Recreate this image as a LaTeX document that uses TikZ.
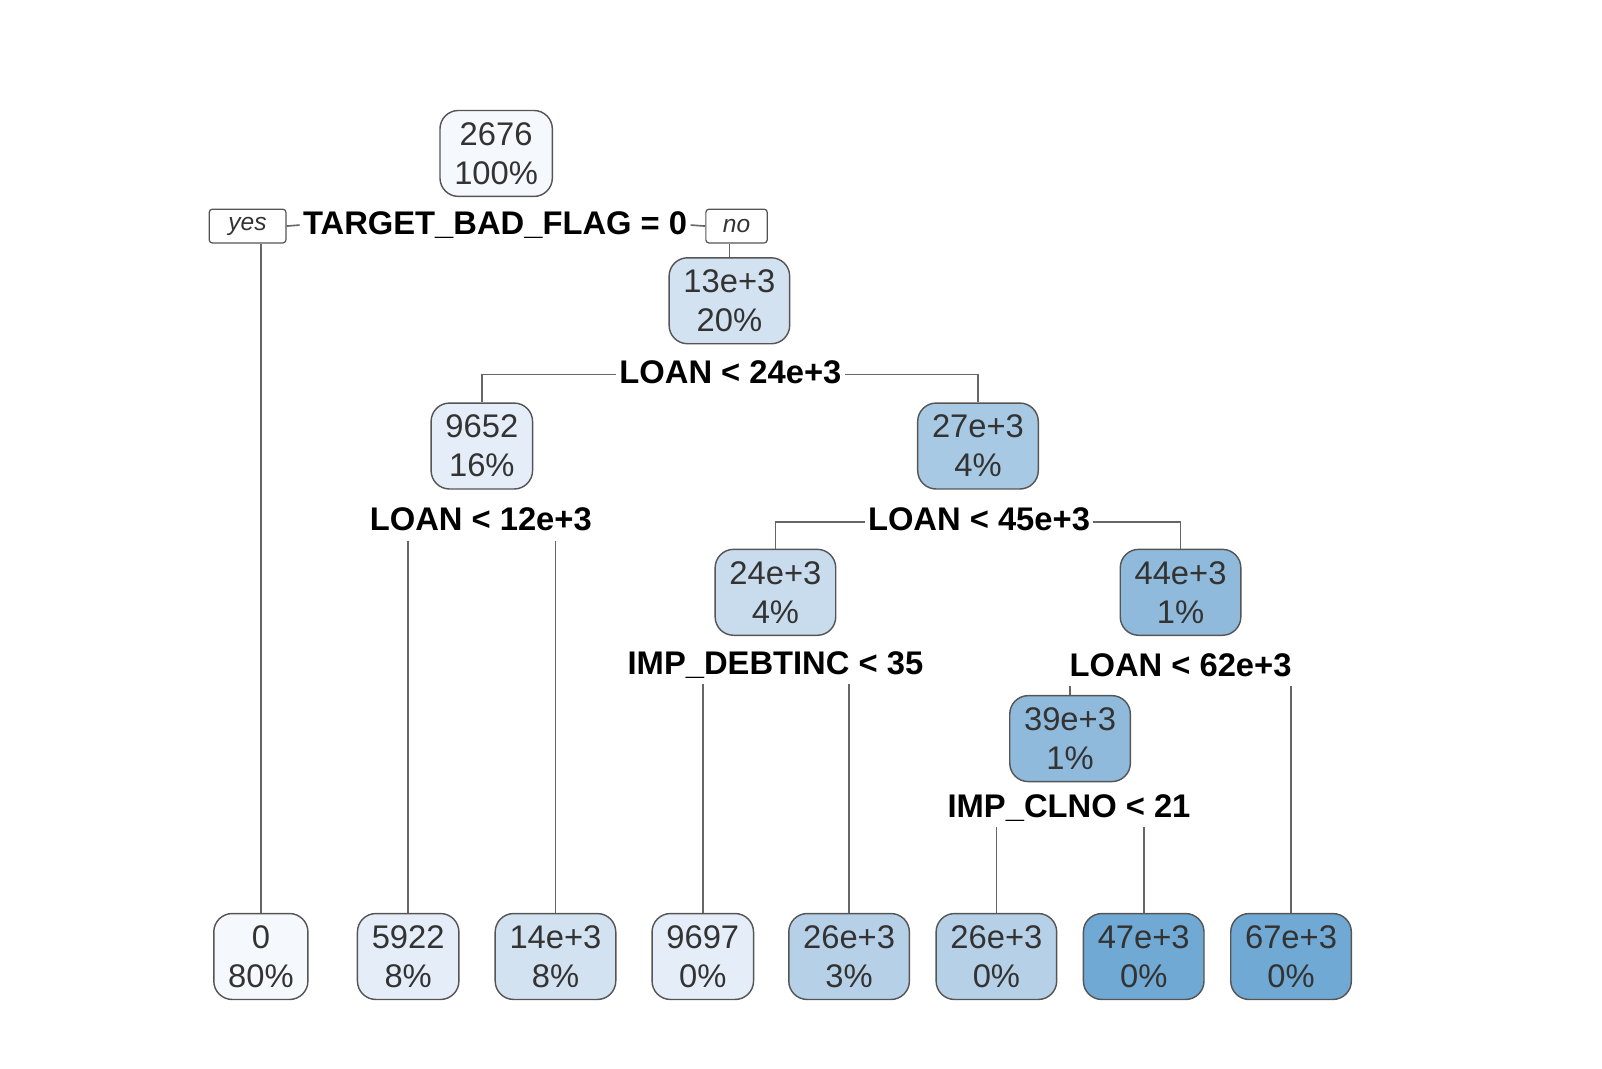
\documentclass[tikz,border=0pt]{standalone}
\usepackage{fontspec}
\setmainfont{Liberation Sans}
\definecolor{bdr}{HTML}{555555}
\definecolor{lin}{HTML}{666666}
\definecolor{txt}{HTML}{333333}
\definecolor{cA}{HTML}{F5F9FD}
\definecolor{cB}{HTML}{E5EEF8}
\definecolor{cC}{HTML}{D3E2F1}
\definecolor{cD}{HTML}{C9DCEE}
\definecolor{cE}{HTML}{B6D0E7}
\definecolor{cF}{HTML}{A7C9E3}
\definecolor{cG}{HTML}{90BADB}
\definecolor{cH}{HTML}{70A9D3}
\begin{document}
\begin{tikzpicture}[x=0.5pt,y=-0.5pt,
  box/.style={draw=bdr, line width=0.7pt, rounded corners=9pt, align=center,
    inner xsep=7pt, inner ysep=2pt, minimum height=42pt, text=txt,
    font=\fontsize{16}{19}\selectfont},
  split/.style={inner sep=1.5pt, text height=12pt, text depth=3pt,
    font=\fontsize{16}{19}\selectfont\bfseries, text=black},
  yn/.style={draw=bdr, line width=0.6pt, rounded corners=1.5pt, minimum height=16.5pt,
    inner sep=0pt, text=txt, font=\fontsize{12}{14}\selectfont\itshape},
  conn/.style={draw=lin, line width=0.8pt}]
\useasboundingbox (0,0) rectangle (1566,1044);
% internal nodes
\node[box, fill=cA] (r) at (485,150) {2676\\100\%};
\node[yn, minimum width=37.5pt] (yes) at (242,221) {yes};
\node[yn, minimum width=30pt] (no) at (720,221) {no};
\node[split] (s0) at (484,220) {TARGET\_BAD\_FLAG = 0};
\node[box, fill=cC] (n1) at (713,294) {13e+3\\20\%};
\node[split] (s1) at (714,366) {LOAN < 24e+3};
\node[box, fill=cB] (n2) at (471,436) {9652\\16\%};
\node[box, fill=cF] (n3) at (956,436) {27e+3\\4\%};
\node[split] (s2) at (470,510) {LOAN < 12e+3};
\node[split] (s3) at (957,510) {LOAN < 45e+3};
\node[box, fill=cD] (n4) at (758,579) {24e+3\\4\%};
\node[box, fill=cG] (n5) at (1154,579) {44e+3\\1\%};
\node[split] (s4) at (758,650) {IMP\_DEBTINC < 35};
\node[split] (s5) at (1154,652) {LOAN < 62e+3};
\node[box, fill=cG] (n6) at (1046,722) {39e+3\\1\%};
\node[split] (s6) at (1045,790) {IMP\_CLNO < 21};
% leaves
\node[box, fill=cA] (l0) at (255,935) {0\\80\%};
\node[box, fill=cB] (l1) at (399,935) {5922\\8\%};
\node[box, fill=cC] (l2) at (543,935) {14e+3\\8\%};
\node[box, fill=cB] (l3) at (687,935) {9697\\0\%};
\node[box, fill=cE] (l4) at (830,935) {26e+3\\3\%};
\node[box, fill=cE] (l5) at (974,935) {26e+3\\0\%};
\node[box, fill=cH] (l6) at (1118,935) {47e+3\\0\%};
\node[box, fill=cH] (l7) at (1262,935) {67e+3\\0\%};
% connectors
\draw[conn] (yes.east) -- (s0.west);
\draw[conn] (s0.east) -- (no.west);
\draw[conn] (yes.south -| l0.north) -- (l0.north);
\draw[conn] (no.south -| n1.north) -- (n1.north);
\draw[conn] (s1.west) -| (n2.north);
\draw[conn] (s1.east) -| (n3.north);
\draw[conn] (s2.south -| l1.north) -- (l1.north);
\draw[conn] (s2.south -| l2.north) -- (l2.north);
\draw[conn] (s3.west) -| (n4.north);
\draw[conn] (s3.east) -| (n5.north);
\draw[conn] (s4.south -| l3.north) -- (l3.north);
\draw[conn] (s4.south -| l4.north) -- (l4.north);
\draw[conn] (s5.south -| n6.north) -- (n6.north);
\draw[conn] (s5.south -| l7.north) -- (l7.north);
\draw[conn] (s6.south -| l5.north) -- (l5.north);
\draw[conn] (s6.south -| l6.north) -- (l6.north);
\end{tikzpicture}
\end{document}
